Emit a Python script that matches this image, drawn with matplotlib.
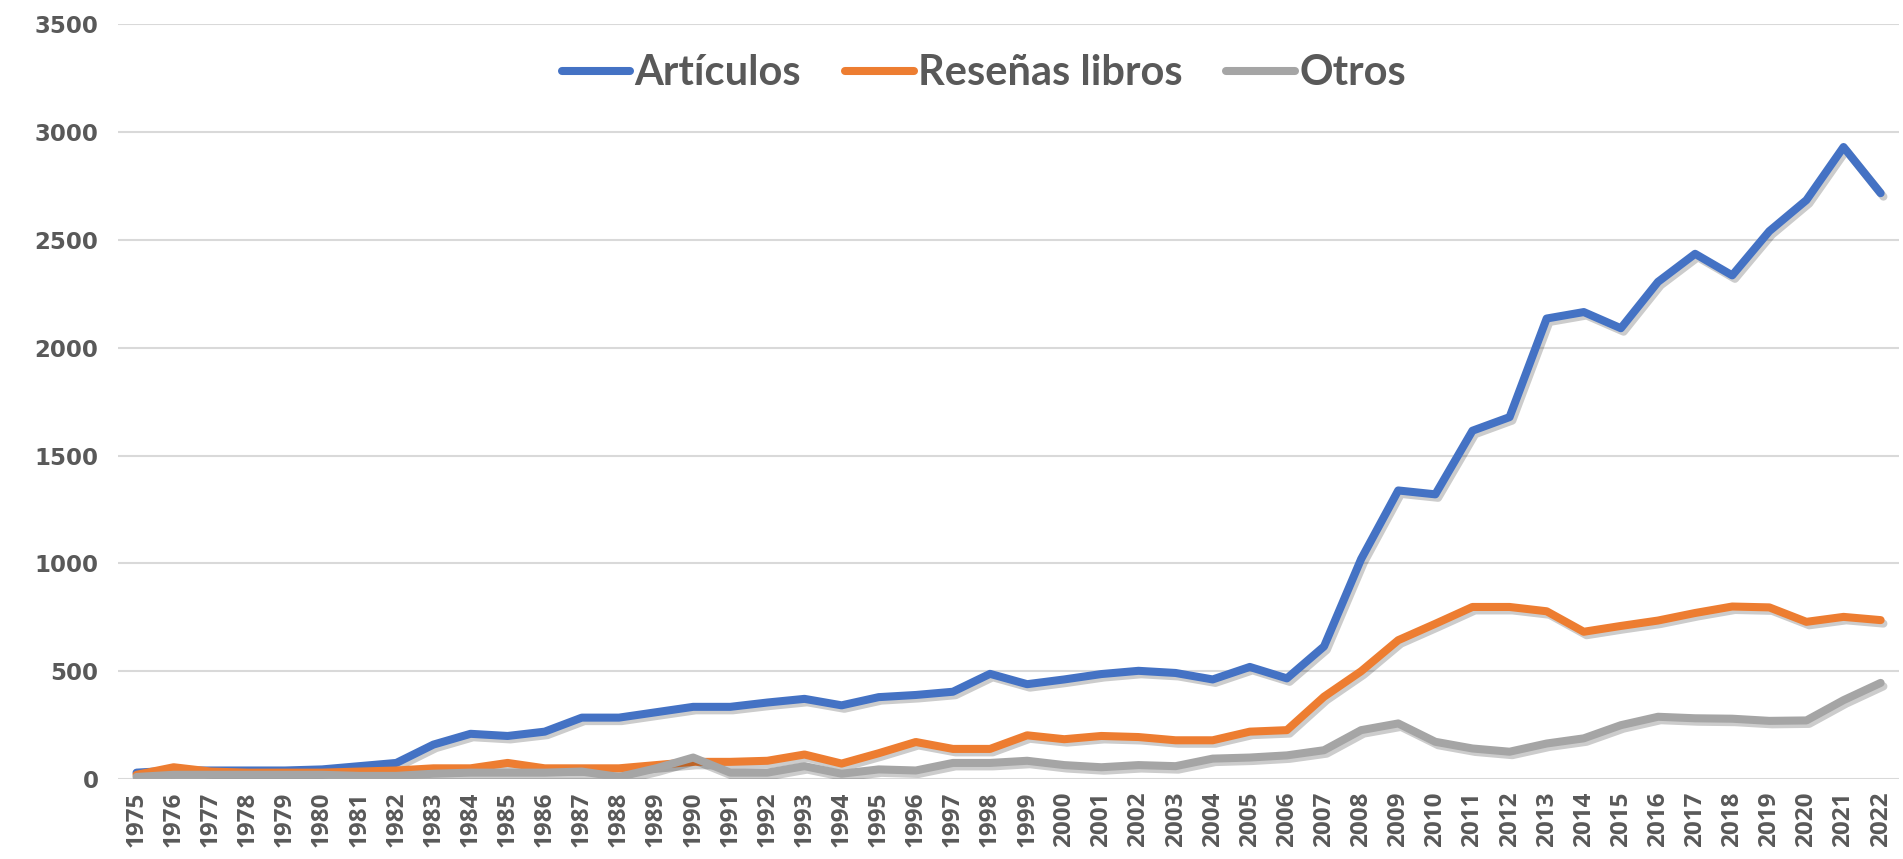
import matplotlib
matplotlib.use("Agg")
import matplotlib.pyplot as plt
import matplotlib.patheffects as pe

years = list(range(1975, 2023))

articulos = [30, 40, 40, 40, 40, 45, 60, 75, 160, 210,
             200, 220, 285, 285, 310, 335, 335, 355, 372, 342,
             380, 390, 405, 488, 440, 462, 487, 502, 492, 462,
             520, 467, 615, 1020, 1338, 1320, 1615, 1678, 2135, 2165,
             2090, 2305, 2435, 2335, 2540, 2684, 2930, 2716]

resenas = [20, 55, 35, 30, 30, 30, 35, 40, 50, 50,
           75, 50, 50, 50, 65, 80, 80, 85, 114, 72,
           120, 172, 140, 140, 203, 185, 200, 195, 180, 180,
           220, 227, 382, 500, 644, 720, 798, 798, 778, 683,
           710, 735, 770, 800, 796, 729, 752, 737]

otros = [10, 20, 20, 20, 20, 20, 15, 15, 25, 30,
         30, 30, 35, 10, 50, 100, 30, 30, 60, 25,
         45, 40, 75, 75, 85, 65, 55, 65, 60, 95,
         100, 110, 134, 227, 258, 173, 142, 127, 165, 189,
         250, 289, 282, 280, 270, 272, 366, 446]

series = [("Artículos", articulos, "#4472C4"),
          ("Reseñas libros", resenas, "#ED7D31"),
          ("Otros", otros, "#A5A5A5")]

fig = plt.figure(figsize=(19.03, 8.59), dpi=100)
ax = fig.add_axes([0.062, 0.093, 0.936, 0.879])

shadow = [pe.SimpleLineShadow(offset=(2, -2.5), alpha=0.2, shadow_color="k"), pe.Normal()]
for name, vals, col in series:
    ax.plot(years, vals, color=col, lw=5.8, label=name,
            solid_joinstyle="round", solid_capstyle="round", path_effects=shadow)

ax.set_xlim(1974.5, 2022.5)
ax.set_ylim(0, 3500)
ax.set_yticks(range(0, 3501, 500))
ax.set_xticks(years)
ax.set_xticklabels([str(y) for y in years], rotation=90)
ax.grid(axis="y", color="#D9D9D9", lw=1.5)
ax.set_axisbelow(True)
for s in ax.spines.values():
    s.set_visible(False)
ax.tick_params(length=0, labelcolor="#595959")
ax.tick_params(axis="y", pad=14, labelsize=16.5)
ax.tick_params(axis="x", pad=9, labelsize=17.5)
for lab in ax.get_yticklabels():
    lab.set_fontweight("bold")
    lab.set_family("DejaVu Sans")
for lab in ax.get_xticklabels():
    lab.set_fontweight("bold")
    lab.set_family("Open Sans")

leg = ax.legend(loc="center", bbox_to_anchor=(0.486, 0.935), ncol=3, frameon=False,
                handlelength=1.65, handletextpad=0.1, columnspacing=1.05,
                prop={"family": "Lato", "weight": "bold", "size": 30})
for t in leg.get_texts():
    t.set_color("#595959")
for h in leg.get_lines():
    h.set_linewidth(5.8)
    h.set_path_effects([])

fig.savefig("out.png", dpi=100)
